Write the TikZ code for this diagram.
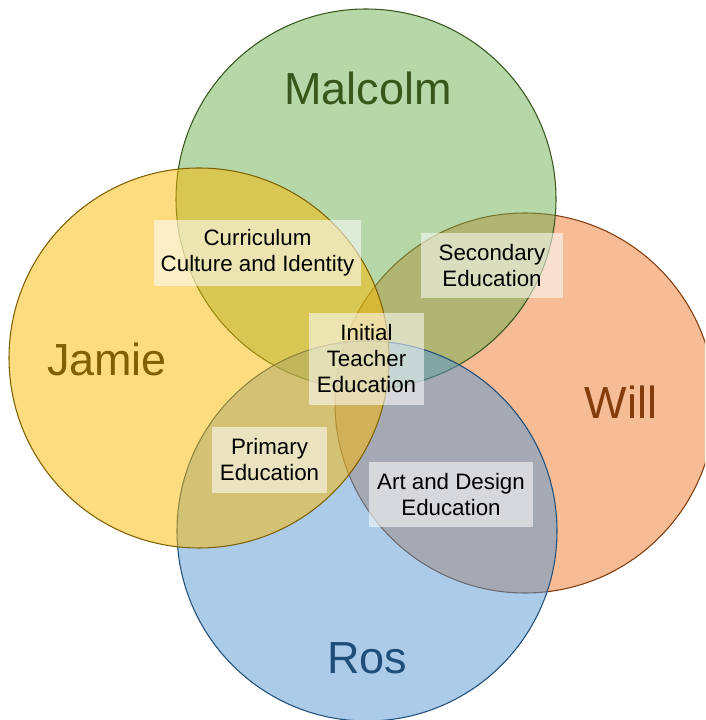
\documentclass[tikz,border=0pt]{standalone}
\usepackage{fontspec}
\setmainfont{Liberation Sans}
\usetikzlibrary{positioning}
\usepackage{xcolor}

\definecolor{malcolmfill}{RGB}{109,175,81}
\definecolor{malcolmline}{RGB}{56,87,29}
\definecolor{jamiefill}{RGB}{251,185,0}
\definecolor{jamieline}{RGB}{127,96,0}
\definecolor{willfill}{RGB}{235,121,45}
\definecolor{willline}{RGB}{132,60,12}
\definecolor{rosfill}{RGB}{87,151,211}
\definecolor{rosline}{RGB}{31,78,121}

\begin{document}
\begin{tikzpicture}[
        ring/.style={fill opacity=0.5, line width=0.6pt},
        person/.style={font=\fontsize{25.6}{30}\selectfont, anchor=base},
        area/.style={fill=white, fill opacity=0.55, text opacity=1, align=center, inner sep=0pt, font=\fontsize{12.7}{14.8}\selectfont}
    ]
        \useasboundingbox (0,0) rectangle (14.1,14.4);
        \clip (0,0) rectangle (14.1,14.4);

        % Circles
        \draw[ring, fill=willfill, draw=willline] (10.5,6.34) circle (3.8);
        \draw[ring, fill=malcolmfill, draw=malcolmline] (7.32,10.42) circle (3.8);
        \draw[ring, fill=rosfill, draw=rosline] (7.34,3.78) circle (3.8);
        \draw[ring, fill=jamiefill, draw=jamieline] (3.98,7.24) circle (3.8);

        % Names
        \node[person, text=malcolmline] (malcolm) at (7.36,12.30) {Malcolm};
        \node[person, text=jamieline] (jamie) at (2.14,6.88) {Jamie};
        \node[person, text=willline] (will) at (12.42,6.02) {Will};
        \node[person, text=rosline] (ros) at (7.35,0.92) {Ros};

        % Shared areas
        \node[area, minimum width=4.14cm, minimum height=1.32cm] (curriculum) at (5.15,9.34) {Curriculum\\ Culture and Identity};
        \node[area, minimum width=2.84cm, minimum height=1.3cm] (secondary) at (9.84,9.09) {Secondary\\ Education};
        \node[area, minimum width=2.3cm, minimum height=1.84cm] (initial) at (7.33,7.22) {Initial\\ Teacher\\ Education};
        \node[area, minimum width=2.3cm, minimum height=1.32cm] (primary) at (5.39,5.2) {Primary\\ Education};
        \node[area, minimum width=3.28cm, minimum height=1.3cm] (artdesign) at (9.02,4.51) {Art and Design\\ Education};
    \end{tikzpicture}
\end{document}
